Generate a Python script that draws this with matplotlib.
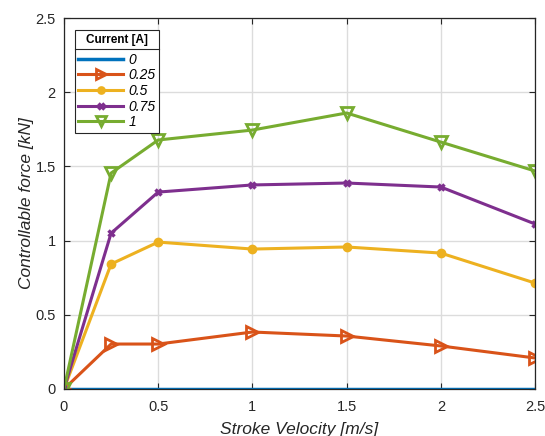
import matplotlib
matplotlib.use('Agg')
import matplotlib.pyplot as plt
from matplotlib.lines import Line2D

plt.rcParams['font.family'] = ['Liberation Sans', 'DejaVu Sans']

velocity = [0, 0.25, 0.5, 1, 1.5, 2, 2.5]
currents = ['0', '0.25', '0.5', '0.75', '1']
force_0 = [0, 0, 0, 0, 0, 0, 0]
force_025 = [0, 0.303, 0.303, 0.384, 0.357, 0.290, 0.209]
force_05 = [0, 0.842, 0.990, 0.943, 0.957, 0.916, 0.714]
force_075 = [0, 1.050, 1.327, 1.375, 1.388, 1.361, 1.112]
force_1 = [0, 1.455, 1.678, 1.745, 1.860, 1.664, 1.469]

series = [force_0, force_025, force_05, force_075, force_1]
colors = ['#0072BD', '#D95319', '#EDB120', '#7E2F8E', '#77AC30']
markers = [None, '>', 'o', 'x', 'v']
msizes = [0, 9, 5, 5, 9]

fig = plt.figure(figsize=(5.45, 4.36), dpi=100)
ax = fig.add_axes([0.1174, 0.1078, 0.8643, 0.8509])

for vals, lab, c, m, ms in zip(series, currents, colors, markers, msizes):
    if m is None:
        ax.plot(velocity, vals, color=c, lw=2.5, label=lab)
    elif m == 'x':
        ax.plot(velocity, vals, color=c, lw=2.2, marker=m, ms=ms, mew=2.5, label=lab)
    elif m == 'o':
        ax.plot(velocity, vals, color=c, lw=2.2, marker=m, ms=ms, mew=2,
                mfc=c, mec=c, label=lab)
    else:
        ax.plot(velocity, vals, color=c, lw=2.2, marker=m, ms=ms, mew=2,
                mfc='none', mec=c, label=lab)

ax.set_xlim(0, 2.5)
ax.set_ylim(0, 2.5)
ax.set_xticks([0, 0.5, 1, 1.5, 2, 2.5])
ax.set_xticklabels(['0', '0.5', '1', '1.5', '2', '2.5'])
ax.set_yticks([0, 0.5, 1, 1.5, 2, 2.5])
ax.set_yticklabels(['0', '0.5', '1', '1.5', '2', '2.5'])
ax.grid(True, color='#dcdcdc', lw=1)
ax.set_axisbelow(True)
ax.tick_params(direction='in', length=4, width=0.8, labelsize=10.5, colors='#262626',
               top=True, right=True)
ax.tick_params(axis='x', pad=8)
ax.tick_params(axis='y', pad=6)
for s in ax.spines.values():
    s.set_color('#262626')
    s.set_linewidth(0.9)

ax.set_xlabel('Stroke Velocity [m/s]', fontsize=12.5, style='italic', color='#262626', labelpad=6)
ax.set_ylabel('Controllable force [kN]', fontsize=12.5, style='italic', color='#262626', labelpad=1)

leg = ax.legend(title='Current [A]', loc='upper left', bbox_to_anchor=(0.023, 0.967),
                borderaxespad=0, fontsize=10, title_fontproperties={'weight': 'bold', 'size': 8.5},
                frameon=True, fancybox=False, edgecolor='#262626', framealpha=1,
                handlelength=3.2, handletextpad=0.4, borderpad=0.25, labelspacing=0.12,
                markerscale=0.85)
leg.get_frame().set_linewidth(0.8)
leg._legend_box.sep = 5
for t in leg.get_texts():
    t.set_style('italic')

# separator line under the legend title
fig.canvas.draw()
bb = leg.get_window_extent().transformed(fig.transFigure.inverted())
tb = leg.get_title().get_window_extent().transformed(fig.transFigure.inverted())
ysep = tb.y0 - 0.007
fig.add_artist(Line2D([bb.x0, bb.x1], [ysep, ysep], color='#262626', lw=0.8,
                      transform=fig.transFigure))

fig.savefig('out.png', dpi=100)
